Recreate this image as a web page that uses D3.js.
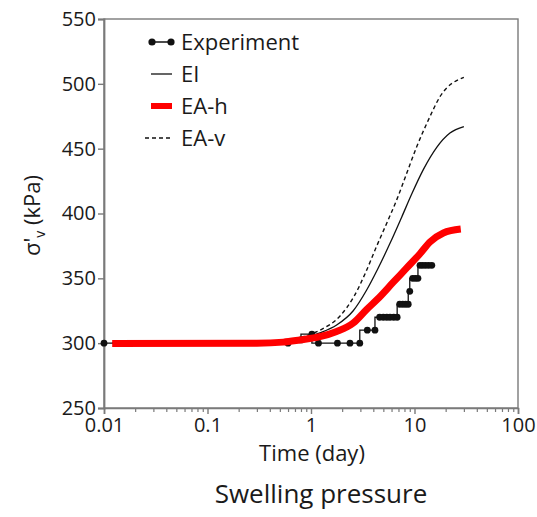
<!DOCTYPE html>
<html><head><meta charset="utf-8">
<script src="https://cdn.jsdelivr.net/npm/d3@7/dist/d3.min.js"></script>
<style>
body{margin:0;background:#fff}
svg{display:block}
text{font-family:"Open Sans",sans-serif;fill:#1a1a1a}
</style>
</head><body>
<svg id="c" width="537" height="517"></svg>
<script>
// ---- data ----
const yTicks = [250, 300, 350, 400, 450, 500, 550];
const xTicks = [0.01, 0.1, 1, 10, 100];
const xTickLabels = ["0.01", "0.1", "1", "10", "100"];
const legendLabels = ["Experiment", "EI", "EA-h", "EA-v"];

const expTime  = [0.01, 0.6, 0.8, 1.02, 1.18, 1.8, 2.38, 2.96, 3.5, 4.15, 4.6, 5.0, 5.4, 5.8, 6.3, 6.8, 7.2, 7.7, 8.2, 8.7, 9.0, 9.6, 10.2, 10.8, 11.3, 12.0, 12.8, 13.7, 14.7];
const expValue = [300, 300, 302.5, 307, 300, 300, 300, 300, 310, 310, 320, 320, 320, 320, 320, 320, 330, 330, 330, 330, 340, 350, 350, 350, 360, 360, 360, 360, 360];

const eiTime  = [0.012, 0.3, 0.54, 0.84, 1.22, 1.77, 2.56, 3.45, 4.4, 5.8, 7.5, 9.4, 12.2, 16.4, 22, 30];
const eiValue = [300, 300, 301, 304, 308, 314, 325, 341, 357, 377, 397, 415, 434, 451, 462, 467];

const eahTime  = [0.012, 0.3, 0.54, 0.78, 1.22, 1.77, 2.56, 3.45, 4.4, 6.24, 8.41, 11.3, 14.1, 19, 28];
const eahValue = [299.7, 300, 300.8, 302.5, 305, 309, 315.5, 326, 334, 347, 358, 369, 378, 385, 388];

const eavTime  = [0.012, 0.3, 0.54, 0.84, 1.22, 1.91, 2.6, 3.35, 4.32, 5.39, 6.73, 8.41, 10.5, 13.6, 17.6, 30];
const eavValue = [300, 300, 301.5, 305, 310, 321, 336, 354, 375, 392.5, 410.5, 431, 451.5, 472, 490, 505];

// ---- layout ----
const L = 104, R = 518, T = 19, B = 408;
const svg = d3.select("#c");
const x = d3.scaleLog().domain([0.01, 100]).range([L, R]);
const y = d3.scaleLinear().domain([250, 550]).range([B, T]);
const axisColor = "#7a7a7a";

// frame
svg.append("rect").attr("x", L).attr("y", T).attr("width", R - L).attr("height", B - T)
  .attr("fill", "none").attr("stroke", axisColor).attr("stroke-width", 1.4);

// y axis
const yAxis = svg.append("g").attr("transform", `translate(${L},0)`)
  .call(d3.axisLeft(y).tickValues(yTicks).tickSize(6).tickFormat(d3.format("d")));
yAxis.select(".domain").attr("stroke", axisColor).attr("stroke-width", 1.8);
yAxis.selectAll(".tick line").attr("stroke", axisColor).attr("stroke-width", 1.4);
yAxis.selectAll(".tick text").attr("x", -8).attr("font-size", 20).attr("font-family", "Open Sans").attr("fill", "#1a1a1a");

// x axis
const minor = [];
for (let d = -2; d < 2; d++) for (let k = 2; k <= 9; k++) minor.push(k * Math.pow(10, d));
const xMinor = svg.append("g").attr("transform", `translate(0,${B})`)
  .call(d3.axisBottom(x).tickValues(minor).tickSize(4).tickFormat(""));
xMinor.select(".domain").remove();
xMinor.selectAll(".tick line").attr("stroke", axisColor).attr("stroke-width", 1.2);
const xAxis = svg.append("g").attr("transform", `translate(0,${B})`)
  .call(d3.axisBottom(x).tickValues(xTicks).tickSize(6).tickFormat((d, i) => xTickLabels[i]));
xAxis.select(".domain").attr("stroke", axisColor).attr("stroke-width", 1.6);
xAxis.selectAll(".tick line").attr("stroke", axisColor).attr("stroke-width", 1.4);
xAxis.selectAll(".tick text").attr("y", 10).attr("font-size", 20).attr("font-family", "Open Sans").attr("fill", "#1a1a1a");

// lines
const line = d3.line().x(d => x(d[0])).y(d => y(d[1])).curve(d3.curveMonotoneX);
const zip = (a, b) => a.map((t, i) => [t, b[i]]);

svg.append("path").datum(zip(eavTime, eavValue)).attr("d", line)
  .attr("fill", "none").attr("stroke", "#111").attr("stroke-width", 1.4).attr("stroke-dasharray", "4,3");
svg.append("path").datum(zip(eiTime, eiValue)).attr("d", line)
  .attr("fill", "none").attr("stroke", "#111").attr("stroke-width", 1.3);

// experiment (under red)
const stepLine = d3.line().x(d => x(d[0])).y(d => y(d[1])).curve(d3.curveStepBefore);
const expData = zip(expTime, expValue);
svg.append("path").datum(expData).attr("d", stepLine)
  .attr("fill", "none").attr("stroke", "#111").attr("stroke-width", 1.3);
svg.append("g").selectAll("circle").data(expData).join("circle")
  .attr("cx", d => x(d[0])).attr("cy", d => y(d[1])).attr("r", 3.4).attr("fill", "#111");

svg.append("path").datum(zip(eahTime, eahValue)).attr("d", line)
  .attr("fill", "none").attr("stroke", "#ff0000").attr("stroke-width", 7);

// legend
const lg = svg.append("g");
const lx0 = 152, lx1 = 171, tx = 181, base0 = 50, gap = 32;
legendLabels.forEach((lab, i) => {
  const by = base0 + i * gap, ly = by - 8;
  if (i === 0) {
    lg.append("line").attr("x1", lx0).attr("x2", lx1).attr("y1", ly).attr("y2", ly).attr("stroke", "#111").attr("stroke-width", 1.5);
    [lx0, lx1].forEach(cx => lg.append("circle").attr("cx", cx).attr("cy", ly).attr("r", 3.6).attr("fill", "#111"));
  } else if (i === 1) {
    lg.append("line").attr("x1", lx0 - 1).attr("x2", lx1 + 1).attr("y1", ly).attr("y2", ly).attr("stroke", "#111").attr("stroke-width", 1.3);
  } else if (i === 2) {
    lg.append("line").attr("x1", lx0 - 1).attr("x2", lx1 + 1).attr("y1", ly).attr("y2", ly).attr("stroke", "#ff0000").attr("stroke-width", 6);
  } else {
    lg.append("line").attr("x1", 145).attr("x2", lx1 + 1).attr("y1", ly).attr("y2", ly).attr("stroke", "#111").attr("stroke-width", 1.4).attr("stroke-dasharray", "4,3");
  }
  lg.append("text").attr("x", tx).attr("y", by).attr("font-size", 22).text(lab);
});

// axis titles
const yl = svg.append("text").attr("transform", `translate(40,${(T + B) / 2 + 2}) rotate(-90)`)
  .attr("text-anchor", "middle").attr("font-size", 22);
yl.append("tspan").text("σ'");
yl.append("tspan").attr("font-size", 14).attr("dy", 5).text("v");
yl.append("tspan").attr("dy", -5).text(" (kPa)");

svg.append("text").attr("x", 312).attr("y", 461).attr("text-anchor", "middle").attr("font-size", 22).text("Time (day)");
svg.append("text").attr("x", 321).attr("y", 503).attr("text-anchor", "middle").attr("font-size", 26).text("Swelling pressure");
</script>
</body></html>
